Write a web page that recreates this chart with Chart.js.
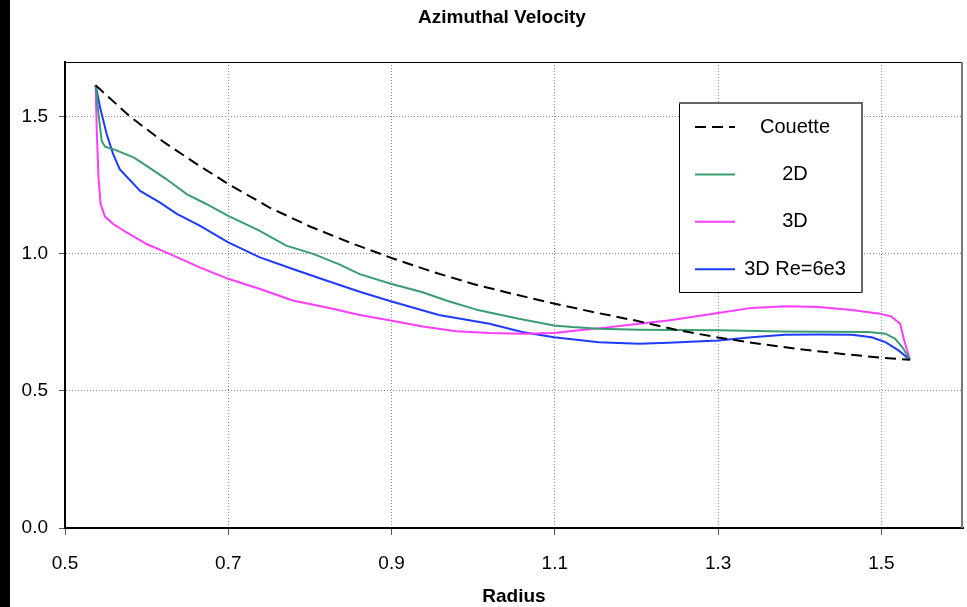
<!DOCTYPE html>
<html>
<head>
<meta charset="utf-8">
<script src="https://cdn.jsdelivr.net/npm/chart.js@4"></script>
<style>
  html, body { margin: 0; padding: 0; background: #fff; }
  #wrap { position: relative; width: 967px; height: 607px; }
  #bar { position: absolute; left: 0; top: 0; width: 10px; height: 607px; background: #000; }
  canvas { position: absolute; left: 0; top: 0; }
</style>
</head>
<body>
<div id="wrap">
  <div id="bar"></div>
  <canvas id="azimuthal" width="967" height="607"></canvas>
</div>
<script>
// values
var couetteR = [0.5375, 0.58, 0.62, 0.66, 0.70, 0.75, 0.80, 0.85, 0.90, 0.95, 1.00, 1.05, 1.10, 1.15, 1.20, 1.25, 1.30, 1.35, 1.40, 1.45, 1.50, 1.535];
var couetteV = [1.615, 1.50, 1.41, 1.33, 1.255, 1.17, 1.10, 1.04, 0.985, 0.935, 0.89, 0.853, 0.818, 0.786, 0.756, 0.722, 0.695, 0.672, 0.652, 0.636, 0.621, 0.614];

var twoDR = [0.5375, 0.541, 0.545, 0.549, 0.559, 0.584, 0.600, 0.624, 0.649, 0.673, 0.700, 0.738, 0.771, 0.804, 0.836, 0.861, 0.899, 0.938, 0.967, 1.007, 1.056, 1.099, 1.121, 1.154, 1.203, 1.30, 1.38, 1.484, 1.505, 1.517, 1.527, 1.535];
var twoDV = [1.615, 1.510, 1.412, 1.391, 1.382, 1.352, 1.321, 1.273, 1.218, 1.182, 1.139, 1.085, 1.030, 1.000, 0.962, 0.926, 0.891, 0.860, 0.830, 0.794, 0.763, 0.739, 0.733, 0.727, 0.723, 0.721, 0.717, 0.715, 0.709, 0.690, 0.654, 0.614];

var threeDR = [0.5375, 0.5388, 0.541, 0.5436, 0.549, 0.559, 0.575, 0.600, 0.628, 0.665, 0.700, 0.738, 0.779, 0.828, 0.861, 0.899, 0.938, 0.979, 1.020, 1.060, 1.099, 1.130, 1.162, 1.203, 1.239, 1.30, 1.341, 1.382, 1.423, 1.464, 1.498, 1.512, 1.523, 1.528, 1.535];
var threeDV = [1.615, 1.461, 1.279, 1.182, 1.136, 1.109, 1.079, 1.036, 1.000, 0.951, 0.909, 0.873, 0.830, 0.800, 0.777, 0.757, 0.735, 0.718, 0.711, 0.709, 0.711, 0.721, 0.731, 0.745, 0.757, 0.784, 0.803, 0.809, 0.806, 0.795, 0.782, 0.772, 0.745, 0.684, 0.614];

var reR = [0.5375, 0.543, 0.551, 0.559, 0.567, 0.592, 0.616, 0.637, 0.665, 0.700, 0.738, 0.779, 0.820, 0.861, 0.899, 0.958, 1.020, 1.060, 1.099, 1.154, 1.203, 1.239, 1.30, 1.341, 1.382, 1.423, 1.464, 1.488, 1.505, 1.521, 1.535];
var reV = [1.615, 1.534, 1.437, 1.364, 1.309, 1.230, 1.188, 1.146, 1.103, 1.042, 0.988, 0.945, 0.903, 0.862, 0.827, 0.777, 0.745, 0.715, 0.696, 0.678, 0.672, 0.676, 0.684, 0.696, 0.705, 0.706, 0.705, 0.696, 0.678, 0.648, 0.614];

var xTicks = [0.5, 0.7, 0.9, 1.1, 1.3, 1.5];
var yTicks = [0.0, 0.5, 1.0, 1.5];

function pts(xs, ys) {
  return xs.map((x, i) => ({ x: x, y: ys[i] }));
}

const FONT = '"Liberation Sans", Arial, sans-serif';

// title, top/right frame lines
const frame = {
  id: "frame",
  afterDraw(chart) {
    const ctx = chart.ctx;
    const a = chart.chartArea;
    ctx.save();
    ctx.strokeStyle = "#000";
    ctx.lineWidth = 1;
    ctx.beginPath();
    ctx.moveTo(a.left, a.top + 0.5);
    ctx.lineTo(a.right, a.top + 0.5);
    ctx.stroke();
    ctx.strokeStyle = "#777";
    ctx.lineWidth = 2;
    ctx.beginPath();
    ctx.moveTo(a.right - 1, a.top);
    ctx.lineTo(a.right - 1, a.bottom);
    ctx.stroke();
    ctx.fillStyle = "#000";
    ctx.font = "bold 19px " + FONT;
    ctx.textAlign = "center";
    ctx.textBaseline = "middle";
    ctx.fillText("Azimuthal Velocity", 502, 18);
    ctx.restore();
  },
};

// boxed legend inside the plot
const legendBox = {
  id: "legendBox",
  afterDatasetsDraw(chart) {
    const ctx = chart.ctx;
    const l = 679, t = 102, r = 863, b = 293;
    ctx.save();
    ctx.fillStyle = "#fff";
    ctx.fillRect(l, t, r - l, b - t);
    ctx.strokeStyle = "#000";
    ctx.lineWidth = 1;
    ctx.beginPath();
    ctx.moveTo(l + 0.5, t);
    ctx.lineTo(l + 0.5, b - 0.5);
    ctx.lineTo(r, b - 0.5);
    ctx.stroke();
    ctx.strokeStyle = "#666";
    ctx.lineWidth = 2;
    ctx.beginPath();
    ctx.moveTo(l, t + 1);
    ctx.lineTo(r - 1, t + 1);
    ctx.lineTo(r - 1, b);
    ctx.stroke();
    chart.data.datasets.forEach((ds, i) => {
      const y = 127 + i * 47.4;
      ctx.strokeStyle = ds.borderColor;
      ctx.lineWidth = 2;
      ctx.setLineDash(ds.borderDash || []);
      ctx.beginPath();
      ctx.moveTo(695, y);
      ctx.lineTo(735, y);
      ctx.stroke();
      ctx.setLineDash([]);
      ctx.fillStyle = "#000";
      ctx.font = "20px " + FONT;
      ctx.textAlign = "center";
      ctx.textBaseline = "middle";
      ctx.fillText(ds.label, 795, y);
    });
    ctx.restore();
  },
};

const data_azimuthal = {
  datasets: [
    {
      label: "Couette",
      data: pts(couetteR, couetteV),
      borderColor: "#000000",
      borderWidth: 2,
      borderDash: [11, 6],
    },
    {
      label: "2D",
      data: pts(twoDR, twoDV),
      borderColor: "#3a9d6e",
      borderWidth: 2,
    },
    {
      label: "3D",
      data: pts(threeDR, threeDV),
      borderColor: "#ff3cff",
      borderWidth: 2,
    },
    {
      label: "3D Re=6e3",
      data: pts(reR, reV),
      borderColor: "#1e3cff",
      borderWidth: 2,
    },
  ],
};

const config_azimuthal = {
  type: "scatter",
  data: data_azimuthal,
  options: {
    responsive: false,
    animation: false,
    devicePixelRatio: 1,
    showLine: true,
    layout: { padding: { top: 62, right: 4, left: 0, bottom: 0 } },
    elements: {
      point: { radius: 0, hoverRadius: 0 },
      line: { tension: 0, fill: false },
    },
    scales: {
      x: {
        type: "linear",
        min: 0.5,
        max: 1.6,
        afterBuildTicks: (s) => { s.ticks = xTicks.map((v) => ({ value: v })); },
        afterFit: (s) => { s.height = 79; },
        ticks: {
          color: "#000",
          font: { family: FONT, size: 19 },
          padding: 17,
          maxRotation: 0,
          callback: (v) => v.toFixed(1),
        },
        grid: { color: "#8a8a8a", tickColor: "#555", tickLength: 7, tickWidth: 1 },
        border: { color: "#000", width: 2, dash: [1, 2] },
        title: {
          display: true,
          text: "Radius",
          color: "#000",
          font: { family: FONT, size: 19, weight: "bold" },
          padding: { top: 0, bottom: -1 },
        },
      },
      y: {
        type: "linear",
        min: 0,
        max: 1.7,
        afterBuildTicks: (s) => { s.ticks = yTicks.map((v) => ({ value: v })); },
        afterFit: (s) => { s.width = 65; },
        ticks: {
          color: "#000",
          font: { family: FONT, size: 19 },
          padding: 11,
          callback: (v) => v.toFixed(1),
        },
        grid: { color: "#8a8a8a", tickColor: "#555", tickLength: 6, tickWidth: 1 },
        border: { color: "#000", width: 2, dash: [1, 2] },
      },
    },
    plugins: {
      legend: { display: false },
      title: { display: false },
      tooltip: { enabled: false },
    },
  },
  plugins: [legendBox, frame],
};

const azimuthal = new Chart(document.getElementById("azimuthal"), config_azimuthal);
</script>
</body>
</html>
